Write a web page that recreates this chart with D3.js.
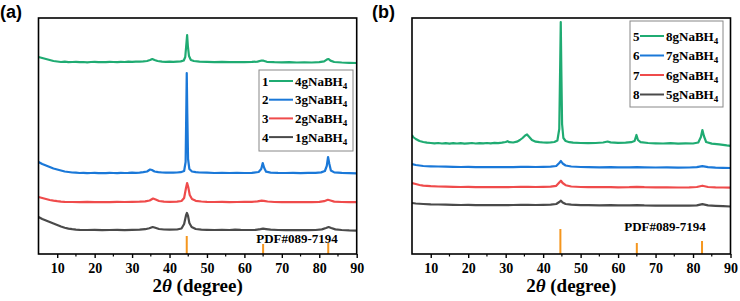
<!DOCTYPE html>
<html>
<head>
<meta charset="utf-8">
<script src="https://cdn.jsdelivr.net/npm/d3@7"></script>
<style>
  body { margin: 0; background: #fff; }
  text { font-family: "Liberation Serif", "Times New Roman", serif; font-weight: bold; }
</style>
</head>
<body>
<div id="chart"></div>
<script>
// tick values on the 2theta axis
const majorTicks = [10, 20, 30, 40, 50, 60, 70, 80, 90];
const minorTicks = [15, 25, 35, 45, 55, 65, 75, 85];

// legend names and numbers
const namesA = ["4gNaBH", "3gNaBH", "2gNaBH", "1gNaBH"];
const numsA = ["1", "2", "3", "4"];
const namesB = ["8gNaBH", "7gNaBH", "6gNaBH", "5gNaBH"];
const numsB = ["5", "6", "7", "8"];
const colors = ["#1fab72", "#1a78d8", "#ef4b4b", "#4a4a4a"];

// reference sticks (PDF#089-7194)
const pdfPos = [44.6, 65.0, 82.4];
const pdfA = [18, 10, 11];
const pdfB = [25, 11, 13];

// intensities (a.u., stacked offsets), [2theta, I]
const a1 = [[5,197],[5.5,196.5],[6,196],[7,195],[8,194],[9,193],[10,192.5],[11,192],[12,192.3],[13,191.8],[14,192],[15,192.2],[16,191.8],[17,192],[18,191.7],[19,192],[20,192.2],[21,191.8],[22,192],[23,191.9],[24,192.2],[25,192],[26,191.8],[27,192.1],[28,192],[29,192.3],[30,192.1],[31,192.4],[32,192.3],[33,192.6],[34,193],[34.8,194],[35.4,195],[36,194],[36.8,193],[38,192.4],[39,192.2],[40,192.3],[41,192.2],[42,192.4],[43,192.6],[43.8,193.5],[44.2,197],[44.5,210],[44.7,219],[44.9,208],[45.2,198],[45.7,194],[46.5,193],[48,192.4],[50,192.1],[52,191.9],[54,192.1],[56,191.8],[58,192],[60,191.9],[62,192.1],[63.5,192.4],[64.6,193.5],[65.1,193.3],[66,192.2],[68,191.8],[70,191.6],[72,191.8],[74,191.5],[76,191.7],[78,191.5],[80,191.8],[81.3,192.6],[82.1,194.6],[82.5,195],[83,193.4],[84,192],[86,191.5],[88,191.2],[90,191]];
const a2 = [[5,92],[5.5,91],[6,90],[7,88.5],[8,87],[9,85.5],[10,84.5],[11,83.5],[12,82.5],[13,82],[14,81.5],[15,81.3],[16,81],[17,81.2],[18,80.8],[19,81],[20,81.2],[21,80.9],[22,81],[23,80.8],[24,81.1],[25,81],[26,80.9],[27,81.2],[28,81],[29,81.1],[30,81.3],[31,81.2],[32,81.4],[33,81.8],[34,82.5],[34.8,84.5],[35.3,84],[36,82.5],[37,81.8],[38,81.5],[39,81.4],[40,81.3],[41,81.4],[42,81.5],[43,81.8],[43.9,83],[44.3,92],[44.5,150],[44.6,181],[44.75,140],[44.95,95],[45.3,85],[46,82.5],[47,81.8],[48,81.5],[50,81.3],[52,81],[54,81.2],[56,81],[58,81.1],[60,81],[62,81.2],[63.8,82],[64.5,85],[64.9,91],[65.3,86],[65.8,82.3],[67,81.4],[69,81.1],[71,81],[73,81.2],[75,80.9],[77,81.1],[79,81.2],[80.5,81.6],[81.5,83],[82,88],[82.35,97],[82.7,90],[83.1,83.5],[84,81.6],[86,81.1],[88,80.9],[90,80.7]];
const a3 = [[5,57],[6,56],[7,55],[8,54],[9,53.3],[10,52.8],[11,52.4],[12,52.2],[14,52],[16,51.8],[18,52.1],[20,51.9],[22,52],[24,51.8],[26,52.1],[28,52],[30,52.2],[32,52.3],[33.5,52.6],[34.7,53.5],[35.6,55.5],[36.3,54.5],[37.2,53],[38.5,52.4],[40,52.2],[42,52.4],[43.2,53],[43.9,56],[44.4,66],[44.7,71],[45,67],[45.4,59],[46,55],[47,53.2],[48.5,52.5],[50,52.2],[52,52],[54,52.1],[56,51.9],[58,52],[60,52.1],[62,52.2],[63.5,52.6],[64.6,53.3],[65.2,53.2],[66.2,52.5],[68,52],[70,51.9],[72,52],[74,51.8],[76,52],[78,51.9],[80,52.1],[81.3,52.8],[82.3,54.2],[83,53.5],[84,52.4],[86,52],[88,51.8],[90,51.8]];
const a4 = [[5,37],[5.5,36],[6,35],[7,33.5],[8,32],[9,30.5],[10,29],[11,27.5],[12,26.3],[13,25.4],[14,24.8],[15,24.4],[16,24.2],[18,24],[20,24.1],[22,23.9],[24,24],[26,24.1],[28,23.9],[30,24.1],[32,24.3],[33.5,24.8],[34.6,25.8],[35.5,27],[36.2,26.2],[37.2,25],[38.5,24.5],[40,24.3],[42,24.5],[43.2,25.5],[43.9,30],[44.4,38.5],[44.65,41],[44.95,38],[45.3,31],[45.9,27],[47,25],[48.5,24.4],[50,24.2],[52,24],[54,24.1],[56,24],[57.5,24.4],[59,24.1],[61,24],[63,24.2],[64.3,24.8],[65,25.3],[65.8,24.9],[67,24.3],[69,24],[71,23.9],[73,24],[75,23.8],[77,23.9],[79,24],[80.7,24.6],[81.8,26],[82.5,27],[83.2,26],[84.3,24.6],[86,24],[88,23.6],[90,23.4]];

const b5 = [[5,119],[5.3,117],[6,115],[7,113],[8,112],[9,111.3],[10,111],[11,110.6],[12,111],[13,110.5],[14,110.8],[15,110.4],[16,110.9],[17,110.5],[18,110.8],[19,110.4],[20,110.7],[21,111],[22,110.5],[23,110.8],[24,110.6],[25,111],[26,110.7],[27,111.1],[28,110.8],[29,111.3],[30,112],[30.5,112.8],[31,111.8],[32,111.5],[33,112.3],[33.8,114],[34.5,116],[35.2,118.5],[35.7,119.5],[36.3,117],[37,114],[38,112.3],[39,111.8],[40,111.5],[41,111.3],[42,111.6],[43,112],[43.8,113.5],[44.3,125],[44.55,190],[44.7,232],[44.85,185],[45.05,130],[45.4,116],[46,113],[47,111.8],[48,111.3],[50,111],[52,110.8],[54,111],[56,111.5],[57.2,112.5],[58,111.6],[60,111.2],[62,111.4],[63.5,111.8],[64.4,113],[64.9,119],[65.3,114],[66,111.8],[68,111],[70,110.7],[72,110.5],[74,110.8],[76,110.4],[78,110.6],[80,110.5],[81.4,111.5],[82.1,117],[82.5,124],[82.9,118],[83.5,112],[85,110.4],[87,109.6],[89,108.6],[90,108.2]];
const b6 = [[5,90],[6,89],[7,88.5],[8,88],[10,87.7],[12,87.5],[14,87.3],[16,87.2],[18,87],[20,87.1],[22,86.9],[24,87],[26,86.8],[28,86.9],[30,87],[32,86.9],[34,87.1],[36,87.2],[38,87],[40,87.1],[42,87.3],[43.5,88],[44.3,91],[44.75,93],[45.2,90.5],[46,88.5],[47.5,87.5],[50,87],[52,86.8],[55,86.7],[58,86.8],[60,86.6],[63,86.7],[65,86.8],[67,86.6],[70,86.5],[73,86.6],[76,86.4],[79,86.5],[81,86.8],[82.5,87.8],[84,86.8],[86,86.4],[88,86.2],[90,86]];
const b7 = [[5,71],[6,70],[7,69],[8,68.3],[10,67.8],[12,67.5],[14,67.3],[16,67.1],[18,67],[20,67.2],[22,66.9],[24,67],[26,66.8],[28,67],[30,66.9],[32,67],[34,67.1],[36,67.2],[38,67],[40,67.1],[42,67.3],[43.5,68.2],[44.3,71.5],[44.75,73.3],[45.2,71],[46,68.8],[47.5,67.5],[50,67],[52,66.9],[55,66.8],[58,66.9],[60,66.7],[63,66.8],[65,67.2],[67,66.8],[70,66.6],[73,66.7],[76,66.5],[79,66.6],[81,67],[82.5,68.3],[84,67],[86,66.6],[88,66.5],[90,66.4]];
const b8 = [[5,51],[6,50.5],[8,50],[10,49.6],[12,49.5],[14,49.3],[16,49.2],[18,49],[20,49.1],[22,48.9],[24,49],[26,48.8],[28,49],[30,48.9],[32,49],[34,49.1],[36,49.2],[38,49],[40,49.1],[42,49.3],[43.5,50],[44.3,52],[44.75,53.3],[45.2,51.5],[46,50],[47.5,49.3],[50,48.9],[52,48.8],[55,48.7],[58,48.8],[60,48.6],[63,48.7],[65,48.9],[67,48.6],[70,48.4],[73,48.5],[76,48.3],[79,48.4],[81,48.6],[82.5,49.8],[84,48.6],[86,48.2],[88,47.8],[90,47.5]];

const W = 740, H = 301;
const plotTop = 18, plotBottom = 254;

const svg = d3.select("#chart").append("svg")
    .attr("width", W)
    .attr("height", H);

const y = d3.scaleLinear().domain([0, 236]).range([plotBottom, plotTop]);

const panels = [
  { id: "a", tag: "(a)", tagX: 0, left: 38.5, right: 356.7, series: [a1, a2, a3, a4],
    names: namesA, nums: numsA, pdf: pdfA, pdfText: [297, 243],
    legend: { x: 259, y: 70, w: 94, h: 81, row0: 81, step: 18.7 } },
  { id: "b", tag: "(b)", tagX: 372, left: 412, right: 730.5, series: [b5, b6, b7, b8],
    names: namesB, nums: numsB, pdf: pdfB, pdfText: [665, 231],
    legend: { x: 630, y: 21, w: 93, h: 86, row0: 36, step: 19.5 } }
];

panels.forEach(p => {
  const x = d3.scaleLinear().domain([5, 90]).range([p.left, p.right]);
  const g = svg.append("g");

  g.append("clipPath").attr("id", "clip-" + p.id)
    .append("rect")
    .attr("x", p.left).attr("y", plotTop)
    .attr("width", p.right - p.left).attr("height", plotBottom - plotTop);

  const line = d3.line()
    .x(d => x(d[0]))
    .y(d => y(d[1]));

  // traces, bottom one drawn first
  const plot = g.append("g").attr("clip-path", `url(#clip-${p.id})`);
  p.series.slice().reverse().forEach((s, i) => {
    plot.append("path")
      .datum(s)
      .attr("fill", "none")
      .attr("stroke", colors[3 - i])
      .attr("stroke-width", 2.2)
      .attr("stroke-linejoin", "round")
      .attr("d", line);
  });

  // reference sticks
  plot.selectAll(".stick")
    .data(pdfPos)
    .enter().append("line")
    .attr("x1", d => x(d)).attr("x2", d => x(d))
    .attr("y1", plotBottom).attr("y2", (d, i) => y(p.pdf[i]))
    .attr("stroke", "#f5961e")
    .attr("stroke-width", 2);

  g.append("text")
    .attr("x", p.pdfText[0]).attr("y", p.pdfText[1])
    .attr("text-anchor", "middle")
    .style("font-size", "13px")
    .text("PDF#089-7194");

  // x axis
  const ax = g.append("g")
    .attr("transform", `translate(0,${plotBottom})`)
    .call(d3.axisBottom(x).tickValues(majorTicks).tickSize(4).tickPadding(5));
  ax.select(".domain").remove();
  ax.selectAll("line").attr("stroke", "#000").attr("stroke-width", 1.4);
  ax.selectAll("text")
    .style("font-family", "'Liberation Serif', serif")
    .style("font-weight", "bold")
    .style("font-size", "14px")
    .attr("fill", "#000");

  g.append("g")
    .selectAll("line")
    .data(minorTicks)
    .enter().append("line")
    .attr("x1", d => x(d)).attr("x2", d => x(d))
    .attr("y1", plotBottom).attr("y2", plotBottom + 2.5)
    .attr("stroke", "#000").attr("stroke-width", 1.2);

  // frame
  g.append("rect")
    .attr("x", p.left).attr("y", plotTop)
    .attr("width", p.right - p.left).attr("height", plotBottom - plotTop)
    .attr("fill", "none")
    .attr("stroke", "#000")
    .attr("stroke-width", 1.6);

  // axis title
  const t = g.append("text")
    .attr("x", (p.left + p.right) / 2)
    .attr("y", 292)
    .attr("text-anchor", "middle")
    .style("font-size", "19px");
  t.append("tspan").text("2");
  t.append("tspan").style("font-style", "italic").text("\u03B8");
  t.append("tspan").text(" (degree)");

  // panel tag
  svg.append("text")
    .attr("x", p.tagX).attr("y", 18)
    .style("font-family", "'Liberation Sans', Arial, sans-serif")
    .style("font-size", "18px")
    .text(p.tag);

  // legend
  const L = p.legend;
  g.append("rect")
    .attr("x", L.x).attr("y", L.y)
    .attr("width", L.w).attr("height", L.h)
    .attr("fill", "#fff")
    .attr("stroke", "#888")
    .attr("stroke-width", 1);

  p.names.forEach((n, i) => {
    const cy = L.row0 + i * L.step;
    g.append("text")
      .attr("x", L.x + 3).attr("y", cy + 4.5)
      .style("font-size", "13px")
      .text(p.nums[i]);
    g.append("line")
      .attr("x1", L.x + 10).attr("x2", L.x + 34)
      .attr("y1", cy).attr("y2", cy)
      .attr("stroke", colors[i])
      .attr("stroke-width", 2);
    const lt = g.append("text")
      .attr("x", L.x + 36).attr("y", cy + 4.5)
      .style("font-size", "13px");
    lt.append("tspan").text(n);
    lt.append("tspan").attr("dy", 3).style("font-size", "9px").text("4");
  });
});
</script>
</body>
</html>
